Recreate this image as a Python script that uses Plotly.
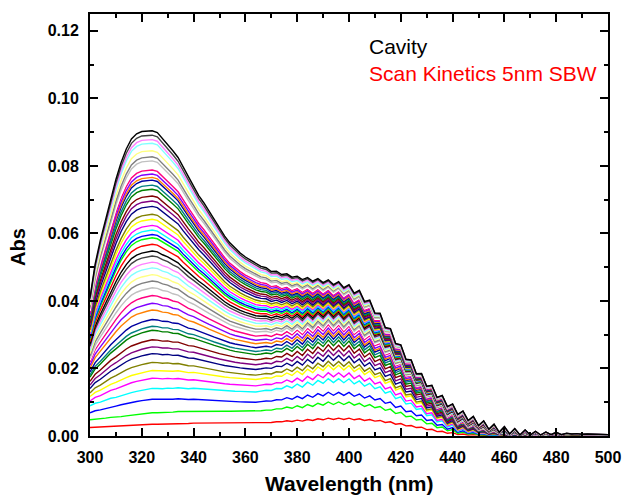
import numpy as np
import plotly.graph_objects as go

# Wavelength grid of the scans (nm)
wavelength_nm = np.arange(300, 501, 2)

# Final (highest) scan, 300-500 nm in 2 nm steps
top_scan_abs = [
    0.0410, 0.0510, 0.0580, 0.0640, 0.0700, 0.0760, 0.0810, 0.0850, 0.0880, 0.0895,
    0.0902, 0.0904, 0.0904, 0.0899, 0.0882, 0.0865, 0.0845, 0.0825, 0.0795, 0.0768,
    0.0740, 0.0712, 0.0690, 0.0665, 0.0640, 0.0615, 0.0592, 0.0572, 0.0556, 0.0542,
    0.0530, 0.0520, 0.0510, 0.0502, 0.0498, 0.0487, 0.0488, 0.0478, 0.0480, 0.0470,
    0.0473, 0.0463, 0.0469, 0.0458, 0.0466, 0.0454, 0.0462, 0.0448, 0.0457, 0.0439,
    0.0448, 0.0423, 0.0431, 0.0398, 0.0402, 0.0364, 0.0363, 0.0321, 0.0318, 0.0274,
    0.0270, 0.0227, 0.0225, 0.0184, 0.0185, 0.0147, 0.0150, 0.0114, 0.0120, 0.0087,
    0.0095, 0.0064, 0.0074, 0.0046, 0.0058, 0.0031, 0.0045, 0.0020, 0.0035, 0.0011,
    0.0028, 0.0006, 0.0022, 0.0003, 0.0018, 0.0003, 0.0014, 0.0003, 0.0012, 0.0004,
    0.0011, 0.0004, 0.0008, 0.0006, 0.0007, 0.0005, 0.0006, 0.0005, 0.0005, 0.0004,
    0.0004,
]

# First (lowest) scan, same grid
first_scan_abs = [
    0.0025, 0.0026, 0.0026, 0.0027, 0.0028, 0.0028, 0.0029, 0.0030, 0.0031, 0.0032,
    0.0033, 0.0034, 0.0035, 0.0035, 0.0035, 0.0036, 0.0036, 0.0037, 0.0037, 0.0037,
    0.0038, 0.0038, 0.0038, 0.0038, 0.0038, 0.0038, 0.0038, 0.0038, 0.0038, 0.0038,
    0.0038, 0.0038, 0.0038, 0.0039, 0.0040, 0.0040, 0.0042, 0.0042, 0.0045, 0.0043,
    0.0047, 0.0044, 0.0049, 0.0046, 0.0051, 0.0048, 0.0053, 0.0049, 0.0053, 0.0049,
    0.0053, 0.0048, 0.0051, 0.0046, 0.0049, 0.0044, 0.0046, 0.0040, 0.0042, 0.0035,
    0.0037, 0.0030, 0.0031, 0.0025, 0.0026, 0.0019, 0.0020, 0.0013, 0.0014, 0.0008,
    0.0010, 0.0004, 0.0006, 0.0003, 0.0004, 0.0002, 0.0002, 0.0001, 0.0001, 0.0001,
    0.0, 0.0, 0.0, 0.0, 0.0, 0.0, 0.0, 0.0, 0.0, 0.0,
    0.0, 0.0, 0.0, 0.0, 0.0, 0.0, 0.0, 0.0, 0.0, 0.0,
    0.0,
]

# Absorbance of every scan at the 324 nm band maximum
peak_abs_324 = [
    0.0035, 0.0069, 0.0109, 0.0141, 0.0171, 0.0194, 0.0218, 0.0244, 0.0264, 0.0285,
    0.0313, 0.0325, 0.0345, 0.0373, 0.0393, 0.0416, 0.0428, 0.0439, 0.0459, 0.0478,
    0.0498, 0.0515, 0.0533, 0.0548, 0.0568, 0.0587, 0.0597, 0.0610, 0.0624, 0.0642,
    0.0657, 0.0680, 0.0696, 0.0711, 0.0731, 0.0743, 0.0758, 0.0766, 0.0776, 0.0788,
    0.0800, 0.0815, 0.0827, 0.0845, 0.0867, 0.0878, 0.0891, 0.0904,
]

# Absorbance of every scan at the ~395 nm shoulder
shoulder_abs_395 = [
    0.0051, 0.0097, 0.0125, 0.0164, 0.0181, 0.0203, 0.0214, 0.0231, 0.0246, 0.0261,
    0.0275, 0.0285, 0.0295, 0.0302, 0.0310, 0.0320, 0.0325, 0.0330, 0.0335, 0.0341,
    0.0346, 0.0351, 0.0355, 0.0360, 0.0364, 0.0368, 0.0372, 0.0376, 0.0380, 0.0383,
    0.0387, 0.0391, 0.0395, 0.0399, 0.0403, 0.0407, 0.0410, 0.0414, 0.0418, 0.0422,
    0.0426, 0.0430, 0.0434, 0.0437, 0.0441, 0.0445, 0.0449, 0.0452,
]

# Origin-style colour cycle (starts after black)
origin_colors = [
    "#FF0000", "#00FF00", "#0000FF", "#00FFFF", "#FF00FF", "#FFFF00", "#808000",
    "#000080", "#800080", "#800000", "#008000", "#008080", "#0000A0", "#FF8000",
    "#8000FF", "#FF0080", "#FFFFFF", "#C0C0C0", "#808080", "#FFFF80", "#80FFFF",
    "#FF80FF", "#404040", "#000000",
]

x_ticks = [300, 320, 340, 360, 380, 400, 420, 440, 460, 480, 500]
y_ticks = [0.00, 0.02, 0.04, 0.06, 0.08, 0.10, 0.12]

top = np.array(top_scan_abs)
first = np.array(first_scan_abs)
i_peak = int(np.where(wavelength_nm == 324)[0][0])
shoulder_idx = [int(np.where(wavelength_nm == w)[0][0]) for w in (392, 394, 396, 398)]
tp, ts = top[i_peak], top[shoulder_idx].mean()
fp, fs = first[i_peak], first[shoulder_idx].mean()
det = tp * fs - fp * ts

fig = go.Figure()
for k, (p, s) in enumerate(zip(peak_abs_324, shoulder_abs_395)):
    # each scan as a mix of the first and final scans matching its two band heights
    a = (p * fs - fp * s) / det
    b = (tp * s - ts * p) / det
    y = a * top + b * first
    fig.add_trace(go.Scatter(
        x=wavelength_nm, y=y, mode="lines",
        line=dict(color=origin_colors[k % len(origin_colors)], width=1.4),
        name=f"Scan {k + 1}", hoverinfo="skip",
    ))

font_family = "Liberation Sans, Arial, sans-serif"
axis_common = dict(
    showline=True, linewidth=2, linecolor="black", mirror="allticks",
    ticks="inside", ticklen=8, tickwidth=2, tickcolor="black",
    showgrid=False, zeroline=False, automargin=False,
    tickfont=dict(family=font_family, size=16, color="black", weight="bold"),
    ticklabelstandoff=6,
)

fig.update_layout(
    width=623, height=497,
    margin=dict(l=90, r=15, t=14, b=61),
    plot_bgcolor="white", paper_bgcolor="white",
    showlegend=False,
    xaxis=dict(
        range=[300, 500], tickvals=x_ticks,
        minor=dict(dtick=10, tick0=300, ticks="inside", ticklen=4, tickwidth=2, tickcolor="black"),
        **axis_common,
    ),
    yaxis=dict(
        range=[0, 0.125], tickvals=y_ticks, tickformat=".2f",
        minor=dict(dtick=0.01, tick0=0, ticks="inside", ticklen=4, tickwidth=2, tickcolor="black"),
        **axis_common,
    ),
    annotations=[
        dict(xref="paper", yref="paper", x=0.5, y=-0.112, xanchor="center", yanchor="middle",
             text="Wavelength (nm)", showarrow=False,
             font=dict(family=font_family, size=21, color="black", weight="bold")),
        dict(xref="paper", yref="paper", x=-0.139, y=0.448, xanchor="center", yanchor="middle",
             text="Abs", textangle=-90, showarrow=False,
             font=dict(family=font_family, size=20, color="black", weight="bold")),
        dict(xref="paper", yref="paper", x=0.535, y=0.922, xanchor="left", yanchor="middle",
             text="Cavity", showarrow=False,
             font=dict(family=font_family, size=21, color="black")),
        dict(xref="paper", yref="paper", x=0.535, y=0.860, xanchor="left", yanchor="middle",
             text="Scan Kinetics 5nm SBW", showarrow=False,
             font=dict(family=font_family, size=21, color="#FF0000")),
    ],
)

fig.write_html("out.html")
